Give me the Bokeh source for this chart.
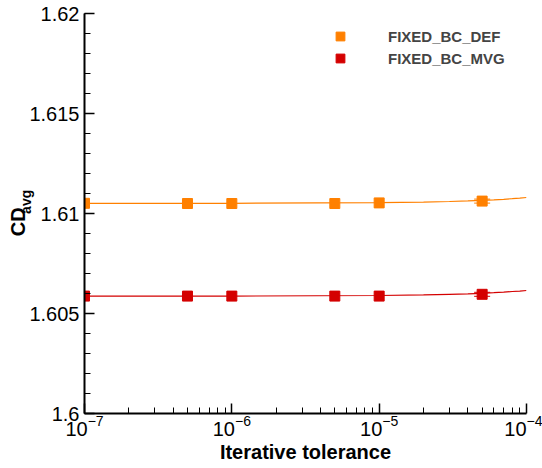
import numpy as np
from bokeh.plotting import figure
from bokeh.models import (Range1d, FixedTicker, CustomJSTickFormatter, LinearAxis,
                          Legend, LegendItem, Whisker, ColumnDataSource, TeeHead)
from bokeh.embed import file_html
from bokeh.resources import INLINE

# ---- data ----
tol = [1e-7, 5e-7, 1e-6, 5e-6, 1e-5, 5e-5]
cd_def = [1.61051, 1.61050, 1.61050, 1.61050, 1.61053, 1.61062]
cd_mvg = [1.60587, 1.60587, 1.60587, 1.60587, 1.60587, 1.60596]
err_def = [0, 0, 0, 0, 0, 0.0001]
err_mvg = [0, 0, 0, 0, 0, 0.0001]

fit_x = [1e-7, 1e-6, 1e-5, 2e-5, 3e-5, 4e-5, 5e-5, 6e-5, 7e-5, 8e-5, 9e-5, 1e-4]
fit_def = [1.61051, 1.61051, 1.61054, 1.61057, 1.61060, 1.61063, 1.61066,
           1.61068, 1.61071, 1.61074, 1.61077, 1.61080]
fit_mvg = [1.60587, 1.60587, 1.60590, 1.60593, 1.60596, 1.60598, 1.60601,
           1.60604, 1.60607, 1.60610, 1.60612, 1.60615]

names = ["FIXED_BC_DEF", "FIXED_BC_MVG"]
colors = ["#FF8000", "#D40000"]

x_major = [1e-7, 1e-6, 1e-5, 1e-4]
y_major = [1.6, 1.605, 1.61, 1.615, 1.62]

FONT = "Liberation Sans"
NBSP = "\u00a0"

p = figure(width=542, height=468, x_axis_type="log",
           x_range=Range1d(1e-7, 1e-4), y_range=Range1d(1.6, 1.62),
           output_backend="svg", toolbar_location=None,
           min_border_left=84, min_border_right=16, min_border_top=13,
           min_border_bottom=55)
p.outline_line_color = None
p.grid.visible = False
p.background_fill_color = "white"
p.border_fill_color = "white"

minor_x = [m * 10.0 ** e for e in range(-7, -4) for m in range(2, 10)]
p.xaxis.ticker = FixedTicker(ticks=x_major, minor_ticks=minor_x)
minor_y = [round(1.6 + 0.001 * i, 4) for i in range(21)]
p.yaxis.ticker = FixedTicker(ticks=y_major, minor_ticks=minor_y)
p.yaxis.formatter = CustomJSTickFormatter(
    code="return tick.toFixed(3).replace(/0+$/, '').replace(/\\.$/, '');")

for ax in (p.xaxis[0], p.yaxis[0]):
    ax.axis_line_width = 2
    ax.axis_line_color = "black"
    ax.major_tick_in = 10
    ax.major_tick_out = 0
    ax.minor_tick_in = 6
    ax.minor_tick_out = 0
    ax.major_tick_line_width = 1.5
    ax.minor_tick_line_width = 1
    ax.major_label_text_font = FONT
    ax.major_label_text_font_size = "20px"
    ax.major_label_text_color = "black"
    ax.axis_label_text_font = FONT
    ax.axis_label_text_font_style = "bold"
    ax.axis_label_text_color = "black"

p.xaxis.axis_label = "Iterative tolerance"
p.xaxis.axis_label_text_font_size = "20px"
p.xaxis.major_label_standoff = 1
p.xaxis.axis_label_standoff = 2

# inner y label: subscript "avg" (shifted up with leading spaces)
p.yaxis.axis_label = NBSP * 6 + "avg"
p.yaxis.axis_label_text_font_size = "14px"
p.yaxis.major_label_standoff = 5
p.yaxis.axis_label_standoff = -8

# outer y label: "CD" (shifted down with trailing spaces)
ax2 = LinearAxis(ticker=FixedTicker(ticks=[]), axis_line_color=None,
                 major_tick_line_color=None, minor_tick_line_color=None,
                 major_label_text_font_size="0px",
                 axis_label="CD" + NBSP * 3, axis_label_text_font=FONT,
                 axis_label_text_font_style="bold",
                 axis_label_text_font_size="20px",
                 axis_label_text_color="black", axis_label_standoff=-13)
p.add_layout(ax2, "left")

items = []
for name, col, cd, fit, err in [(names[0], colors[0], cd_def, fit_def, err_def),
                                (names[1], colors[1], cd_mvg, fit_mvg, err_mvg)]:
    p.line(fit_x, fit, line_color=col, line_width=1.2)
    ex = [x for x, e in zip(tol, err) if e > 0]
    ey = [y for y, e in zip(cd, err) if e > 0]
    ee = [e for e in err if e > 0]
    src = ColumnDataSource(dict(x=ex, lo=[a - b for a, b in zip(ey, ee)],
                                hi=[a + b for a, b in zip(ey, ee)]))
    w = Whisker(source=src, base="x", lower="lo", upper="hi",
                line_color=col, line_width=1,
                upper_head=TeeHead(size=16, line_color=col, line_width=1),
                lower_head=TeeHead(size=16, line_color=col, line_width=1))
    p.add_layout(w)
    r = p.scatter(tol, cd, marker="square", size=10, fill_color=col, line_color=col)
    items.append(LegendItem(label=name, renderers=[r]))

legend = Legend(items=items, location=(245, 344), border_line_color=None,
                background_fill_alpha=0, padding=0, margin=0, spacing=-3,
                glyph_width=22, glyph_height=22, label_height=19,
                label_standoff=37, label_text_font=FONT,
                label_text_font_style="bold", label_text_font_size="15px")
p.add_layout(legend)

open("out.html", "w").write(file_html(p, INLINE))
